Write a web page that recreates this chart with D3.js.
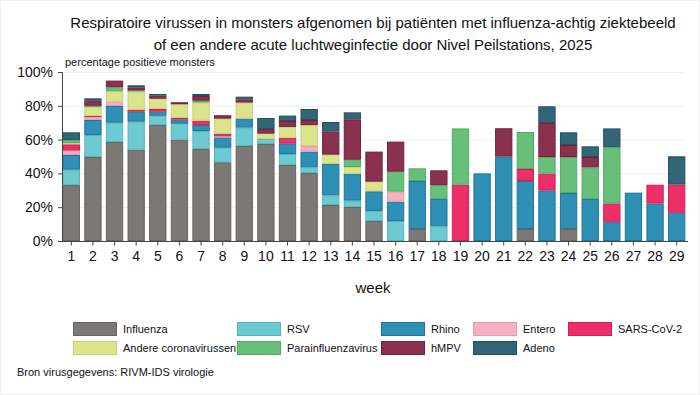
<!DOCTYPE html>
<html lang="nl">
<head>
<meta charset="UTF-8">
<title>Respiratoire virussen</title>
<script src="https://d3js.org/d3.v7.min.js"></script>
<style>
  body { margin: 0; background: #fff; }
  svg { font-family: "Liberation Sans", Arial, sans-serif; display: block; }
  .grid line { stroke: #edf1f3; }
  .grid path { display: none; }
</style>
</head>
<body>
<svg width="700" height="395"></svg>
<script>
// weeks 1..29
var weeks = d3.range(1, 30);

// percentage positive per virus (segment heights)
var influenza = [33.1, 49.7, 58.6, 54.0, 68.6, 60.0, 54.4, 46.6, 56.2, 57.4, 45.0, 40.2, 21.3, 20.1, 11.8, 0, 7.1, 0, 0, 0, 0, 7.1, 0, 7.1, 0, 0, 0, 0, 0];
var rsv       = [9.1, 13.0, 11.4, 16.6, 5.5, 9.4, 10.7, 8.6, 10.9, 3.0, 6.5, 3.4, 5.7, 3.8, 6.0, 11.8, 0, 8.7, 0, 0, 0, 0, 0, 0, 0, 0, 0, 0, 0];
var rhino     = [8.7, 8.9, 9.9, 5.9, 2.4, 2.4, 3.5, 6.1, 5.3, 0, 6.3, 9.3, 18.6, 15.9, 11.6, 11.5, 28.4, 16.2, 0, 40.0, 50.0, 28.4, 29.8, 21.3, 24.9, 11.1, 28.6, 22.2, 16.7];
var entero    = [2.6, 1.8, 2.5, 0, 0, 0, 0, 0.6, 0, 0, 0, 3.3, 0, 0, 0, 5.9, 0, 0, 0, 0, 0, 0, 0, 0, 0, 0, 0, 0, 0];
var sars      = [3.7, 0.6, 0, 1.0, 1.6, 1.0, 2.6, 1.6, 0, 0, 3.1, 0, 0, 0, 0, 0, 0, 0, 33.3, 0, 0, 7.1, 10.0, 0, 0, 11.1, 0, 11.1, 16.7];
var andere    = [0.8, 5.3, 6.2, 10.9, 6.1, 8.1, 10.7, 8.9, 9.5, 3.1, 6.6, 12.4, 5.5, 4.0, 5.7, 0, 0, 0, 0, 0, 0, 0, 0, 0, 0, 0, 0, 0, 0];
var para      = [1.8, 0.7, 2.4, 0.6, 0, 0, 1.1, 0, 0, 0, 0, 0, 0, 4.3, 0, 11.8, 7.5, 8.2, 33.3, 0, 0, 21.9, 9.9, 21.3, 18.7, 33.3, 0, 0, 0];
var hmpv      = [0, 3.0, 3.9, 1.9, 1.8, 1.2, 2.8, 2.0, 1.9, 2.8, 3.5, 3.0, 13.6, 23.9, 17.8, 17.8, 0, 8.7, 0, 0, 16.7, 0, 20.1, 7.1, 6.1, 0, 0, 0, 0];
var adeno     = [4.5, 1.4, 0, 1.2, 1.0, 0, 1.2, 0, 1.6, 6.5, 3.2, 6.5, 5.7, 4.1, 0, 0, 0, 0, 0, 0, 0, 0, 9.9, 7.5, 6.3, 11.1, 0, 0, 16.7];

var yTicks = [0, 20, 40, 60, 80, 100];

var series = [
  { key: "Influenza", values: influenza, fill: "#7b7876", stroke: "#676462" },
  { key: "RSV", values: rsv, fill: "#6ecad1", stroke: "#52b6be" },
  { key: "Rhino", values: rhino, fill: "#2f8fb4", stroke: "#1c769e" },
  { key: "Entero", values: entero, fill: "#f5b0c1", stroke: "#e99ab0" },
  { key: "SARS-CoV-2", values: sars, fill: "#ec3067", stroke: "#d21e57" },
  { key: "Andere coronavirussen", values: andere, fill: "#dbe48a", stroke: "#c9d277" },
  { key: "Parainfluenzavirus", values: para, fill: "#68bf79", stroke: "#52ab64" },
  { key: "hMPV", values: hmpv, fill: "#8a3150", stroke: "#73203d" },
  { key: "Adeno", values: adeno, fill: "#326576", stroke: "#214f60" }
];

var table = weeks.map(function (w, i) {
  var row = { week: w };
  series.forEach(function (s) { row[s.key] = s.values[i]; });
  return row;
});

var svg = d3.select("svg");
var colorOf = {}, strokeOf = {};
series.forEach(function (s) { colorOf[s.key] = s.fill; strokeOf[s.key] = s.stroke; });

// faint frame
svg.append("rect").attr("x", 0.5).attr("y", 0.5).attr("width", 699).attr("height", 394)
  .attr("fill", "none").attr("stroke", "#f0f0f0");

var x = d3.scaleBand().domain(weeks).range([60.5, 687.5]).paddingInner(0.2).paddingOuter(0.1);
var y = d3.scaleLinear().domain([0, 100]).range([241, 72]);

// title
var title = svg.append("text").attr("text-anchor", "middle").attr("font-size", 15).attr("fill", "#111");
title.append("tspan").attr("x", 373).attr("y", 28).text("Respiratoire virussen in monsters afgenomen bij patiënten met influenza-achtig ziektebeeld");
title.append("tspan").attr("x", 373).attr("y", 50).text("of een andere acute luchtweginfectie door Nivel Peilstations, 2025");

svg.append("text").attr("x", 65).attr("y", 66).attr("font-size", 11).attr("fill", "#111")
  .text("percentage positieve monsters");

// gridlines
svg.append("g").attr("class", "grid")
  .attr("transform", "translate(62,0)")
  .call(d3.axisRight(y).tickValues(yTicks.slice(1)).tickSize(623).tickFormat(""));

// stacked bars
var stack = d3.stack().keys(series.map(function (s) { return s.key; }));
var layers = stack(table);

svg.append("g").selectAll("g").data(layers).enter().append("g")
  .attr("fill", function (d) { return colorOf[d.key]; })
  .attr("stroke", function (d) { return strokeOf[d.key]; })
  .selectAll("rect")
  .data(function (d) { return d.filter(function (p) { return p[1] - p[0] > 0; }); })
  .enter().append("rect")
  .attr("x", function (d) { return x(d.data.week) + 0.5; })
  .attr("y", function (d) { return y(d[1]) + 0.5; })
  .attr("width", x.bandwidth() - 1)
  .attr("height", function (d) { return Math.max(0, y(d[0]) - y(d[1]) - 1); })
  .attr("stroke-width", 1);

// y axis
var yAxis = svg.append("g").attr("transform", "translate(62,0)")
  .call(d3.axisLeft(y).tickValues(yTicks).tickSize(4).tickPadding(5).tickFormat(function (d) { return d + "%"; }));
yAxis.selectAll("text").attr("font-size", 14).attr("fill", "#111").attr("font-family", "Liberation Sans, Arial, sans-serif");
yAxis.select(".domain").attr("stroke", "#444").attr("d", "M-4,72.5H0.5V241.5H-4");
yAxis.selectAll("line").attr("stroke", "#444");

// x axis
var xAxis = svg.append("g").attr("transform", "translate(0,241.5)")
  .call(d3.axisBottom(x).tickSize(4).tickPadding(6));
xAxis.selectAll("text").attr("font-size", 14).attr("fill", "#111").attr("font-family", "Liberation Sans, Arial, sans-serif");
xAxis.select(".domain").attr("stroke", "#444").attr("d", "M62,0H688");
xAxis.selectAll("line").attr("stroke", "#444");

svg.append("text").attr("x", 373).attr("y", 293).attr("text-anchor", "middle")
  .attr("font-size", 15).attr("fill", "#111").text("week");

// legend
var legendPos = [
  [73, 322], [237, 322], [381, 322], [473, 322], [568, 322],
  [73, 341], [237, 341], [381, 341], [473, 341]
];
var legend = svg.append("g").selectAll("g").data(series).enter().append("g")
  .attr("transform", function (d, i) { return "translate(" + legendPos[i][0] + "," + legendPos[i][1] + ")"; });
legend.append("rect").attr("x", 0.5).attr("y", 0.5).attr("width", 43).attr("height", 13)
  .attr("fill", function (d) { return d.fill; })
  .attr("stroke", function (d) { return d.stroke; });
legend.append("text").attr("x", 50).attr("y", 11).attr("font-size", 11).attr("fill", "#111")
  .text(function (d) { return d.key; });

svg.append("text").attr("x", 17).attr("y", 376).attr("font-size", 11).attr("fill", "#111")
  .text("Bron virusgegevens: RIVM-IDS virologie");
</script>
</body>
</html>
